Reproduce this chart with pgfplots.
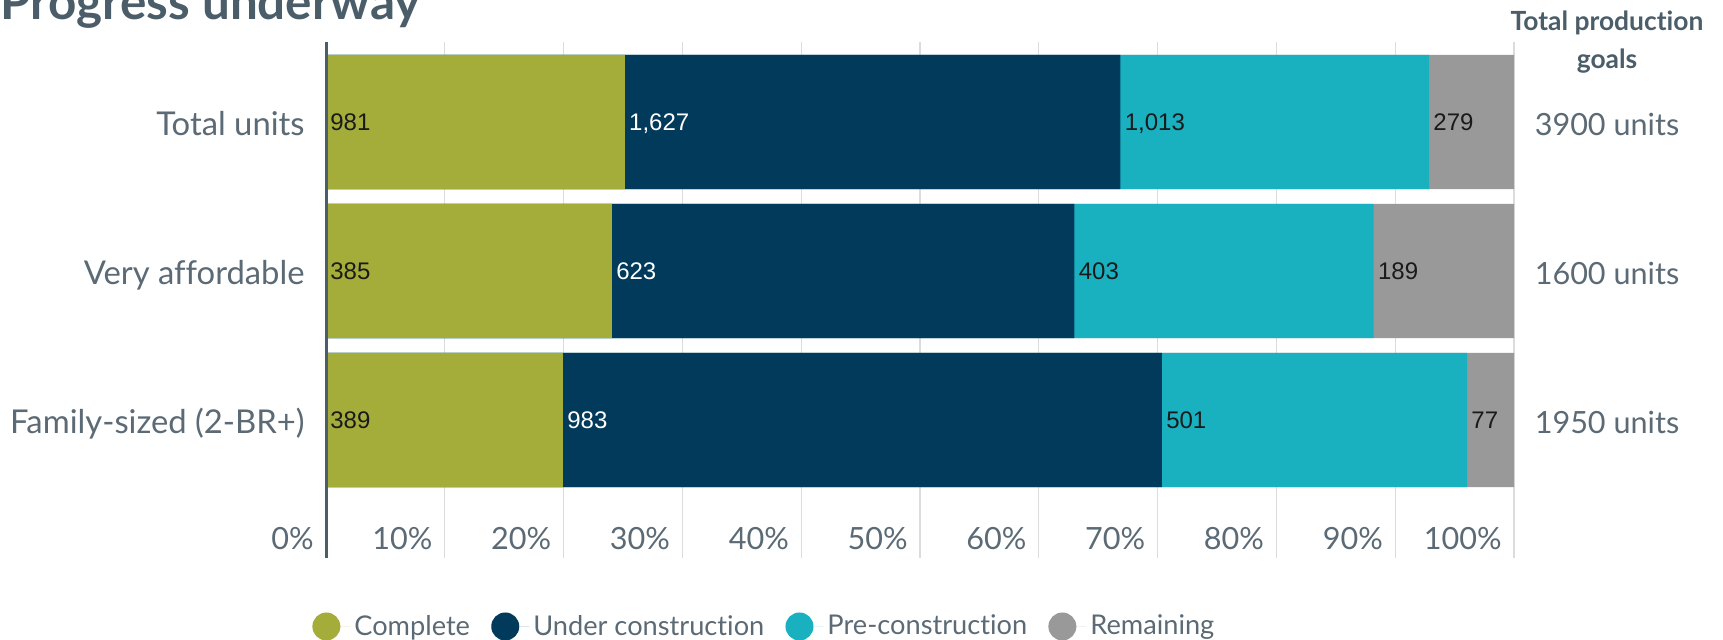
\documentclass[border=0pt]{standalone}
\usepackage{pgfplots}
\pgfplotsset{compat=1.18}
\usepackage{pgfplotstable}
\usepackage{fontspec}
\setmainfont{Lato}[Ligatures=NoCommon]
\newfontfamily\labelfont{Liberation Sans}
\definecolor{cComplete}{HTML}{A4AD3A}
\definecolor{cUnder}{HTML}{023A5B}
\definecolor{cPre}{HTML}{19B1C0}
\definecolor{cRem}{HTML}{999999}
\definecolor{titlec}{HTML}{4B5D69}
\definecolor{textc}{HTML}{5B6A74}
\definecolor{gridc}{HTML}{DCDCDC}
\definecolor{lblc}{HTML}{1A1A1A}

\pgfplotstableread{
y c1 c2 c3 c4 tot
2 981 1627 1013 279 3900
1 385 623 403 189 1600
0 389 983 501 77 1950
}\data

% each segment is drawn as a bar up to its cumulative share; the label of the
% next segment is hung at the right end of the previous one (its start)
\pgfplotsset{
  lbl/.style={
    nodes near coords={\pgfmathprintnumber{\pgfplotspointmeta}},
    point meta=explicit,
    every node near coord/.append style={anchor=base west, inner sep=2pt,
      yshift=-4.3pt, text=#1, font=\labelfont\fontsize{12}{12}\selectfont},
  },
  dot/.style={legend image code/.code={\fill[#1] (7pt,0pt) circle (7pt); \path (0pt,0pt) -- (19pt,0pt);}},
}

\begin{document}
\begin{tikzpicture}
\useasboundingbox (0,0) rectangle (861.5pt,319.5pt);
\node[anchor=base west, inner sep=0pt, text=titlec, font=\fontsize{24.7}{24.7}\selectfont\bfseries] at (0pt,309.8pt) {Progress underway};
\node[anchor=base, inner sep=0pt, text=titlec, font=\fontsize{13.2}{14}\selectfont\bfseries] at (803.5pt,304pt) {Total production};
\node[anchor=base, inner sep=0pt, text=titlec, font=\fontsize{13.2}{14}\selectfont\bfseries] at (803.5pt,285.5pt) {goals};
\begin{axis}[
  at={(163pt,40.5pt)}, anchor=south west,
  scale only axis, width=594pt, height=258pt,
  xbar, bar shift=0pt, bar width=0.9,
  xmin=0, xmax=100, ymin=-0.926, ymax=2.537,
  enlargelimits=false,
  axis line style={draw=none}, major tick length=0pt,
  xmajorgrids, grid style={gridc, line width=0.6pt},
  xtick={0,10,...,100},
  xticklabel={\pgfmathprintnumber{\tick}\%},
  xticklabel style={anchor=base east, inner sep=0pt, xshift=-6pt, yshift=4.3pt,
    font=\fontsize{15.3}{15.3}\selectfont, text=textc},
  ytick={0,1,2}, yticklabels={Family-sized (2-BR+), Very affordable, Total units},
  yticklabel style={anchor=base east, inner sep=0pt, xshift=-10.5pt, yshift=-6.6pt,
    font=\fontsize{16.4}{16.4}\selectfont, text=textc},
  /pgf/number format/assume math mode=true,
  legend style={at={(-0.0118,-0.1327)}, anchor=west, draw=none, fill=none,
    legend columns=4, font=\fontsize{13.6}{13.6}\selectfont, text=textc,
    inner xsep=0pt, inner ysep=0pt,
    /tikz/every even column/.append style={column sep=8.6pt}},
  legend cell align=left,
  reverse legend,
  clip=false,
]
\addplot[fill=cRem, draw=none, dot=cRem]
  table[x expr=(\thisrow{c1}+\thisrow{c2}+\thisrow{c3}+\thisrow{c4})/\thisrow{tot}*100, y=y]{\data};
\addlegendentry{Remaining}
\addplot[fill=cPre, draw=none, dot=cPre, lbl=lblc]
  table[x expr=(\thisrow{c1}+\thisrow{c2}+\thisrow{c3})/\thisrow{tot}*100, y=y, meta=c4]{\data};
\addlegendentry{Pre-construction}
\addplot[fill=cUnder, draw=none, dot=cUnder, lbl=lblc]
  table[x expr=(\thisrow{c1}+\thisrow{c2})/\thisrow{tot}*100, y=y, meta=c3]{\data};
\addlegendentry{Under construction}
\addplot[fill=cComplete, draw=none, dot=cComplete, lbl=white]
  table[x expr=\thisrow{c1}/\thisrow{tot}*100, y=y, meta=c2]{\data};
\addlegendentry{Complete}
% zero-length carrier for the "Complete" labels at 0%
\addplot[draw=none, fill=none, forget plot, lbl=lblc]
  table[x expr=0, y=y, meta=c1]{\data};
\draw[titlec, line width=1.5pt] (rel axis cs:0,0) -- (rel axis cs:0,1);
\node[anchor=base, font=\fontsize{15.3}{15.3}\selectfont, text=textc] at (axis cs:100,2) [xshift=46.5pt, yshift=-6.6pt] {3900 units};
\node[anchor=base, font=\fontsize{15.3}{15.3}\selectfont, text=textc] at (axis cs:100,1) [xshift=46.5pt, yshift=-6.6pt] {1600 units};
\node[anchor=base, font=\fontsize{15.3}{15.3}\selectfont, text=textc] at (axis cs:100,0) [xshift=46.5pt, yshift=-6.6pt] {1950 units};
\end{axis}
\end{tikzpicture}
\end{document}
